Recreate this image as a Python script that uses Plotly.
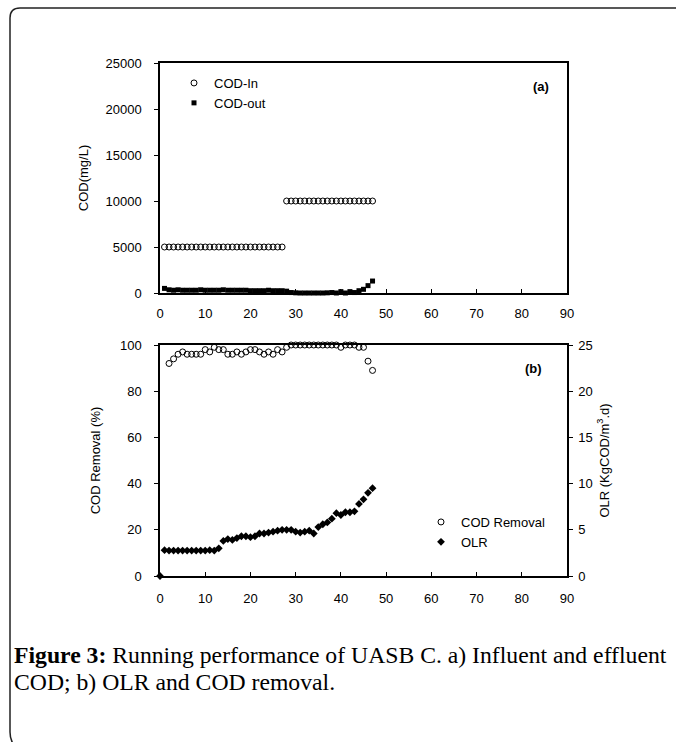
import plotly.graph_objects as go

# ---------------- data ----------------
days_in_low = list(range(1, 28))
days_in_high = list(range(28, 48))
cod_in_days = days_in_low + days_in_high
cod_in = [5000] * len(days_in_low) + [10000] * len(days_in_high)

cod_out_days = list(range(1, 48))
cod_out = [500, 350, 300, 350, 300, 300, 300, 300, 350, 300,
           300, 300, 300, 350, 300, 300, 300, 300, 300, 250,
           250, 250, 250, 300, 250, 250, 250, 200, 50, 20,
           0, 0, 0, 0, 0, 0, 20, 50, 0, 150,
           0, 150, 50, 250, 400, 800, 1300]

removal_days = list(range(2, 48))
cod_removal = [92, 94, 96, 97, 96, 96, 96, 96, 98, 97,
               99, 98, 98, 96, 96, 97, 96, 97, 98, 98,
               97, 96, 97, 96, 98, 97, 99, 100, 100, 100,
               100, 100, 100, 100, 100, 100, 100, 100, 99, 100,
               100, 100, 99, 99, 93, 89]

olr_days = list(range(0, 48))
olr = [0, 2.8, 2.75, 2.75, 2.75, 2.75, 2.75, 2.75, 2.75, 2.75,
       2.75, 2.8, 2.75, 3.0, 3.8, 4.0, 3.9, 4.1, 4.3, 4.3,
       4.2, 4.3, 4.6, 4.6, 4.7, 4.8, 4.9, 5.0, 5.0, 5.0,
       4.8, 4.7, 4.8, 4.9, 4.6, 5.3, 5.6, 5.8, 6.2, 6.8,
       6.6, 6.9, 6.9, 7.0, 7.8, 8.3, 9.0, 9.5]

x_ticks = [0, 10, 20, 30, 40, 50, 60, 70, 80, 90]
cod_ticks = [0, 5000, 10000, 15000, 20000, 25000]
removal_ticks = [0, 20, 40, 60, 80, 100]
olr_ticks = [0, 5, 10, 15, 20, 25]

# ---------------- figure ----------------
W, H = 676, 742
FONT = "Liberation Sans, Arial, sans-serif"
TXT = dict(family=FONT, size=13, color="black")
SERIF = "Liberation Serif, Times New Roman, serif"


def px_x(p):
    return p / W


def px_y(p):
    return 1 - p / H


fig = go.Figure()

fig.add_trace(go.Scatter(x=cod_in_days, y=cod_in, mode="markers", name="COD-In",
                         marker=dict(symbol="circle-open", size=6, color="black",
                                     line=dict(width=1, color="black")),
                         xaxis="x", yaxis="y", legend="legend", cliponaxis=False))
fig.add_trace(go.Scatter(x=cod_out_days, y=cod_out, mode="markers", name="COD-out",
                         marker=dict(symbol="square", size=5, color="black"),
                         xaxis="x", yaxis="y", legend="legend", cliponaxis=False))
fig.add_trace(go.Scatter(x=removal_days, y=cod_removal, mode="markers", name="COD Removal",
                         marker=dict(symbol="circle-open", size=6, color="black",
                                     line=dict(width=1, color="black")),
                         xaxis="x2", yaxis="y2", legend="legend2", cliponaxis=False))
fig.add_trace(go.Scatter(x=olr_days, y=olr, mode="markers", name="OLR",
                         marker=dict(symbol="diamond", size=6, color="black"),
                         xaxis="x2", yaxis="y3", legend="legend2", cliponaxis=False))

xdom = [px_x(160), px_x(567)]
axis_common = dict(showline=True, linecolor="black", linewidth=1.5, showgrid=False,
                   zeroline=False, tickfont=TXT, ticklen=4, tickcolor="black")

fig.update_layout(
    width=W, height=H,
    margin=dict(l=0, r=0, t=0, b=0, autoexpand=False),
    paper_bgcolor="white", plot_bgcolor="white",
    font=TXT,
    xaxis=dict(domain=xdom, anchor="y", range=[0, 90], tickvals=x_ticks,
               ticks="inside", mirror=True, ticklabelstandoff=8, **axis_common),
    yaxis=dict(domain=[px_y(293), px_y(63)], anchor="x", range=[0, 25000],
               tickvals=cod_ticks, ticktext=[str(v) for v in cod_ticks],
               ticks="outside", mirror=True, ticklabelstandoff=10,
               title=dict(text="COD(mg/L)", font=dict(family=FONT, size=13, color="black"),
                          standoff=14),
               **axis_common),
    xaxis2=dict(domain=xdom, anchor="y2", range=[0, 90], tickvals=x_ticks,
                ticks="inside", mirror=True, ticklabelstandoff=10, **axis_common),
    yaxis2=dict(domain=[px_y(576), px_y(345)], anchor="x2", range=[0, 100],
                tickvals=removal_ticks, ticks="outside", mirror=False,
                ticklabelstandoff=10,
                title=dict(text="COD Removal (%)", font=dict(family=FONT, size=13, color="black"),
                           standoff=16),
                **axis_common),
    yaxis3=dict(overlaying="y2", side="right", anchor="x2", range=[0, 25],
                tickvals=olr_ticks, ticks="outside", ticklabelstandoff=3,
                title=dict(text="OLR (KgCOD/m<sup>3</sup>.d)",
                           font=dict(family=FONT, size=13, color="black"), standoff=8),
                **axis_common),
    legend=dict(x=px_x(174), y=px_y(68), xanchor="left", yanchor="top",
                bgcolor="rgba(0,0,0,0)", font=TXT, itemwidth=30,
                tracegroupgap=0),
    legend2=dict(x=px_x(421), y=px_y(507), xanchor="left", yanchor="top",
                 bgcolor="rgba(0,0,0,0)", font=TXT, itemwidth=30,
                 tracegroupgap=0),
    showlegend=True,
)

fig.add_annotation(text="<b>(a)</b>", x=px_x(541), y=px_y(86), xref="paper", yref="paper",
                   xanchor="center", yanchor="middle", showarrow=False, font=TXT)
fig.add_annotation(text="<b>(b)</b>", x=px_x(533), y=px_y(368), xref="paper", yref="paper",
                   xanchor="center", yanchor="middle", showarrow=False, font=TXT)

fig.add_annotation(
    text="<b>Figure 3:</b> Running performance of UASB C. a) Influent and effluent",
    x=px_x(12), y=px_y(655), xref="paper", yref="paper", xanchor="left", yanchor="middle",
    align="left", showarrow=False,
    font=dict(family=SERIF, size=23.7, color="black"))
fig.add_annotation(
    text="COD; b) OLR and COD removal.",
    x=px_x(12), y=px_y(682), xref="paper", yref="paper", xanchor="left", yanchor="middle",
    align="left", showarrow=False,
    font=dict(family=SERIF, size=23.7, color="black"))

# outer rounded frame (cut off at right and bottom)
fig.add_shape(type="path", xref="paper", yref="paper",
              path=(f"M {px_x(14)} {px_y(745)} Q {px_x(10)} {px_y(740)} {px_x(10)} {px_y(732)} "
                    f"L {px_x(10)} {px_y(18)} Q {px_x(10)} {px_y(8)} {px_x(20)} {px_y(8)} "
                    f"L {px_x(690)} {px_y(8)}"),
              line=dict(color="#222222", width=1.5))

fig.write_html("out.html")
